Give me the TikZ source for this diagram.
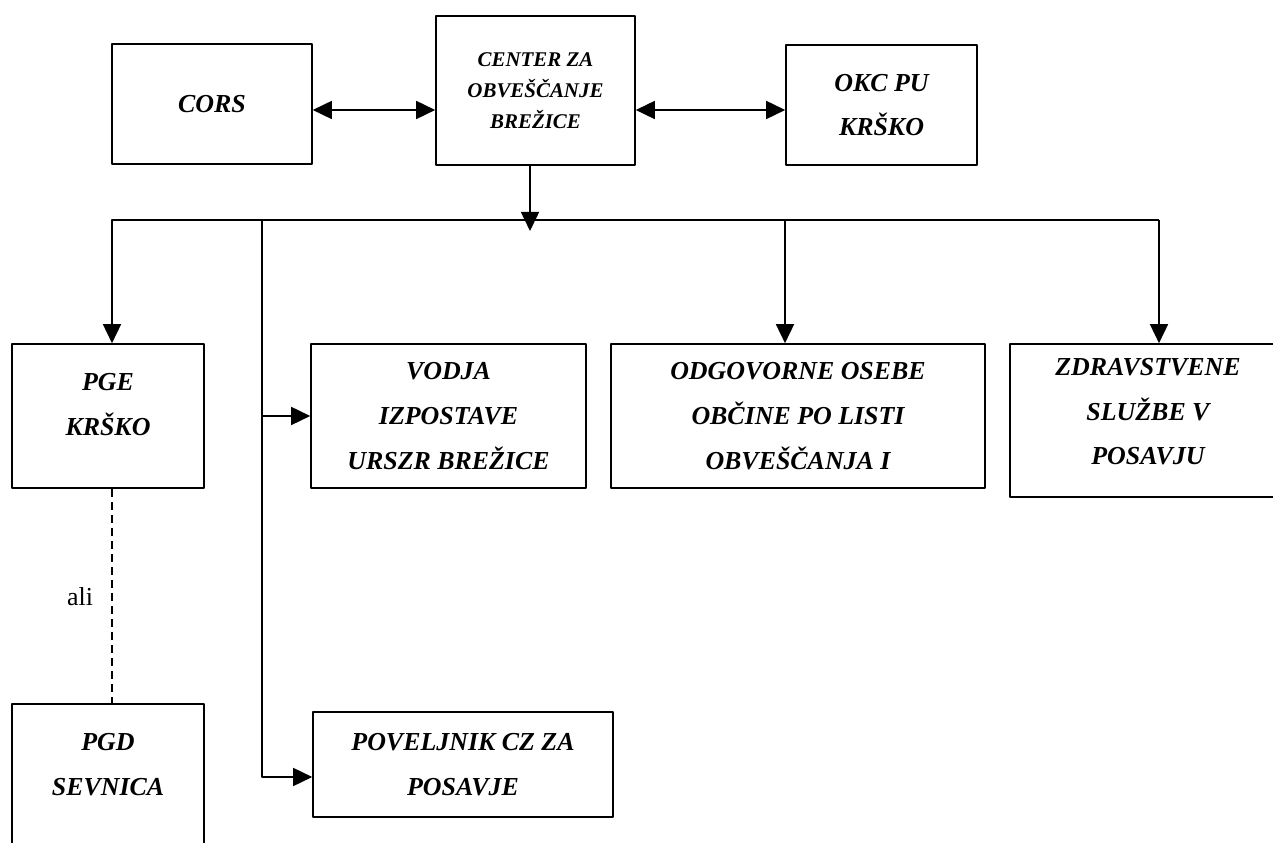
\documentclass[tikz,border=0pt]{standalone}
\usepackage{fontspec}
\setmainfont{Liberation Serif}
\usetikzlibrary{arrows.meta}

\begin{document}
\begin{tikzpicture}[>={Triangle[length=19bp,width=18bp]},line join=bevel,line width=1.6bp,
  box/.style={draw,rectangle,inner sep=0pt,align=center,font=\fontsize{26}{45}\selectfont\bfseries\itshape},
  smallbox/.style={box,font=\fontsize{21}{31}\selectfont\bfseries\itshape},
  ]
%%
\useasboundingbox (0bp,0bp) rectangle (1273bp,843bp);
\clip (0bp,0bp) rectangle (1273bp,843bp);
\node (cors) at (212bp,739bp) [box,minimum width=200bp,minimum height=120bp] {CORS};
  \node (ctr) at (535.5bp,752.5bp) [smallbox,minimum width=199bp,minimum height=149bp] {CENTER ZA\\OBVEŠČANJE\\BREŽICE};
  \node (okc) at (881.5bp,738bp) [box,minimum width=191bp,minimum height=120bp] {OKC PU\\KRŠKO};
  \node (pge) at (108bp,427bp) [box,minimum width=192bp,minimum height=144bp] {PGE\\KRŠKO\\[-22bp]\mbox{}};
  \node (pgd) at (108bp,56bp) [box,minimum width=192bp,minimum height=166bp] {PGD\\SEVNICA\\\mbox{}};
  \node (vodja) at (448.5bp,427bp) [box,minimum width=275bp,minimum height=144bp] {VODJA\\IZPOSTAVE\\URSZR BREŽICE};
  \node (odg) at (798bp,427bp) [box,minimum width=374bp,minimum height=144bp] {ODGOVORNE OSEBE\\OBČINE PO LISTI\\OBVEŠČANJA I};
  \node (zdrav) at (1148bp,422.5bp) [box,minimum width=276bp,minimum height=153bp] {ZDRAVSTVENE\\SLUŽBE V\\POSAVJU\\[-27bp]\mbox{}};
  \node (povel) at (463bp,78.5bp) [box,minimum width=300bp,minimum height=105bp] {POVELJNIK CZ ZA\\POSAVJE};
  \node (ali) at (80bp,246bp) [font=\fontsize{26}{30}\selectfont] {ali};
  \coordinate (hub) at (530bp,612bp);
  \coordinate (busL) at (112bp,623bp);
  \coordinate (busR) at (1159bp,623bp);
  \coordinate (trunk) at (262bp,623bp);
  \coordinate (tapO) at (785bp,623bp);
  \draw [black,<->] ([yshift=-6bp]cors.east) -- ([yshift=-6bp]cors.east -| ctr.west);
  \draw [black,<->] ([yshift=-5bp]okc.west -| ctr.east) -- ([yshift=-5bp]okc.west);
  \draw [black,->] (ctr.south -| hub) -- (hub);
  \draw [black,->] (busR) -- (busL) -- (busL |- pge.north);
  \draw [black,->] (busR) -- (busR |- zdrav.north);
  \draw [black,->] (tapO) -- (tapO |- odg.north);
  \draw [black,->] (trunk) |- ([yshift=-12.5bp]povel.west);
  \draw [black,->] (trunk |- vodja.west) -- (vodja.west);
  \draw [black,dash pattern=on 8bp off 5bp] (busL |- pge.south) -- (busL |- pgd.north);
%
\end{tikzpicture}
\end{document}
